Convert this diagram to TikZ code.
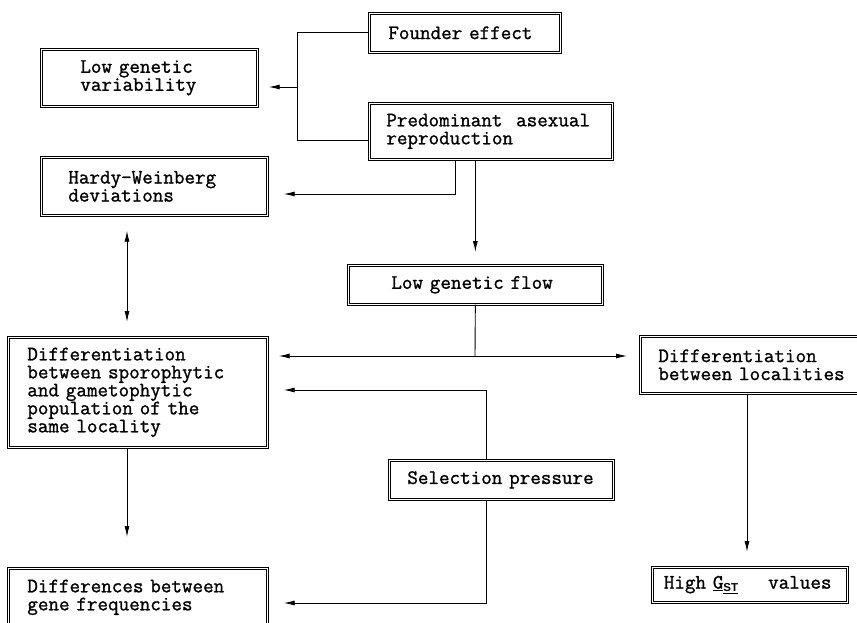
\documentclass[tikz,border=0pt]{standalone}
\usepackage{fontspec}
\newfontfamily\courfont[FakeBold=1.2]{Latin Modern Mono}
\newfontfamily\subfont{Liberation Sans}
\usetikzlibrary{arrows.meta}
\newcommand\boxfont{\courfont\fontsize{20.5}{18}\selectfont}

\begin{document}
\begin{tikzpicture}[
		x=1pt, y=-1pt,
		box/.style={draw, double, line width=0.7pt, double distance=1.4pt,
			align=left, anchor=north west, inner ysep=0pt, font=\boxfont},
		link/.style={line width=0.9pt},
		arr/.style={link, -{Latex[length=11pt,width=5pt]}},
		both/.style={link, {Latex[length=11pt,width=5pt]}-{Latex[length=11pt,width=5pt]}}
		]
	\clip (0,0) rectangle (857,623);

	% boxes
	\node[box, text width=153pt, inner xsep=19pt, minimum height=39pt](founder) at (369,13){Founder effect};
	\node[box, text width=209pt, inner xsep=17pt, minimum height=56pt](asexual) at (369,103){Predominant\ \ asexual\\reproduction};
	\node[box, text width=138pt, inner xsep=39pt, minimum height=57pt](lowvar) at (41,49){Low genetic\\variability};
	\node[box, text width=172pt, inner xsep=27pt, minimum height=58pt](hardy) at (41,157){Hardy-Weinberg\\deviations};
	\node[box, text width=168pt, inner xsep=43pt, minimum height=39pt](flow) at (348,265){Low genetic flow};
	\node[box, text width=221pt, inner xsep=19pt, minimum height=110pt](diffpop) at (8,337){Differentiation\\between sporophytic\\and gametophytic\\population of the\\same locality};
	\node[box, text width=194pt, inner xsep=18pt, minimum height=57pt](diffloc) at (640,336){Differentiation\\between localities};
	\node[box, text width=188pt, inner xsep=18pt, minimum height=39pt](select) at (389,460){Selection pressure};
	\node[box, text width=172pt, inner xsep=11.5pt, minimum height=35pt](gst) at (652,567){High \underline{G}\raisebox{-0.35ex}{\subfont\bfseries\fontsize{11.5}{11.5}\selectfont\underline{ST}}\hspace{30pt}values};
	\node[box, text width=221pt, inner xsep=19pt, minimum height=58pt](diffgene) at (8,568){Differences between\\gene frequencies};

	% helper points
	\coordinate (brk) at (297,87);
	\coordinate (hw) at (455,194);
	\coordinate (dbl) at (127,0);
	\coordinate (split) at (475,356);
	\coordinate (selup) at (486,390);
	\coordinate (seldown) at (486,603);
	\coordinate (gcol) at (747,0);

	% connectors
	\draw[link] (founder.west) -| (brk);
	\draw[link] (brk) |- ([yshift=-9pt]asexual.west);
	\draw[arr, shorten >=11pt] (brk) -- (brk -| lowvar.east);
	\draw[arr, shorten >=16pt] (asexual.south -| hw) |- (hardy.east |- hw);
	\draw[arr, shorten >=13pt] (asexual.south -| flow.north) -- (flow.north);
	\draw[both, shorten <=15pt, shorten >=15pt] (hardy.south -| dbl) -- (diffpop.north -| dbl);
	\draw[link] (flow.south) -- (split);
	\draw[arr, shorten >=11pt] (split) -- (split -| diffpop.east);
	\draw[arr, shorten >=13pt] (split) -- (split -| diffloc.west);
	\draw[arr, shorten >=16pt] (select.north -| selup) |- (diffpop.east |- selup);
	\draw[arr, shorten >=16pt] (select.south -| seldown) |- (diffgene.east |- seldown);
	\draw[arr, shorten >=31pt] (diffpop.south -| dbl) -- (diffgene.north -| dbl);
	\draw[arr, shorten >=15pt] (diffloc.south -| gcol) -- (gst.north -| gcol);
\end{tikzpicture}
\end{document}
